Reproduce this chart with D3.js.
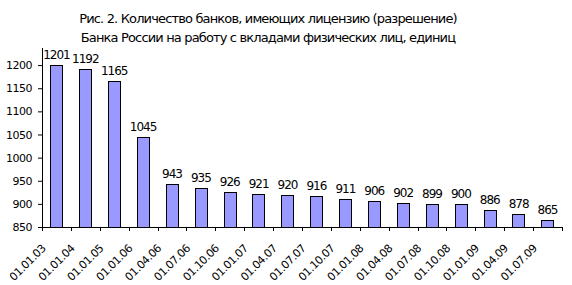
<!DOCTYPE html>
<html>
<head>
<meta charset="utf-8">
<title>Количество банков</title>
<script src="https://cdn.jsdelivr.net/npm/d3@7/dist/d3.min.js"></script>
<style>
  * { margin: 0; padding: 0; }
  body { background: #fff; }
  text { font-family: "DejaVu Sans", sans-serif; fill: #000; }
</style>
</head>
<body>
<div id="chart"></div>
<script>
var dates = ["01.01.03","01.01.04","01.01.05","01.01.06","01.04.06","01.07.06","01.10.06",
             "01.01.07","01.04.07","01.07.07","01.10.07","01.01.08","01.04.08","01.07.08",
             "01.10.08","01.01.09","01.04.09","01.07.09"];
var banks = [1201,1192,1165,1045,943,935,926,921,920,916,911,906,902,899,900,886,878,865];
var yTicks = [850,900,950,1000,1050,1100,1150,1200];
var titleLines = ["Рис. 2. Количество банков, имеющих лицензию (разрешение)",
                  "Банка России на работу с вкладами физических лиц, единиц"];

var W = 572, H = 285;
var mLeft = 42, mRight = 562, mTop = 48, mBottom = 227;

var svg = d3.select("#chart").append("svg")
    .attr("width", W).attr("height", H);

var x = d3.scaleBand().domain(dates).range([mLeft, mRight]).paddingInner(0).paddingOuter(0);
var y = d3.scaleLinear().domain([850, 1237]).range([mBottom, mTop]);

// title
svg.append("g").selectAll("text").data(titleLines).enter().append("text")
    .attr("x", 268).attr("y", function(d, i){ return 23 + i * 19; })
    .attr("text-anchor", "middle")
    .attr("font-size", 13)
    .attr("letter-spacing", -0.85)
    .text(function(d){ return d; });

// bars
var bw = x.bandwidth() * 0.43;
svg.append("g").selectAll("rect").data(banks).enter().append("rect")
    .attr("x", function(d, i){ return Math.round(x(dates[i]) + (x.bandwidth() - bw) / 2) + 0.5; })
    .attr("y", function(d){ return Math.round(y(d)) + 0.5; })
    .attr("width", Math.round(bw))
    .attr("height", function(d){ return mBottom - Math.round(y(d)); })
    .attr("fill", "#9999ff")
    .attr("stroke", "#000")
    .attr("stroke-width", 1);

// value labels
svg.append("g").selectAll("text").data(banks).enter().append("text")
    .attr("x", function(d, i){ return x(dates[i]) + x.bandwidth() / 2; })
    .attr("y", function(d){ return y(d) - 6; })
    .attr("text-anchor", "middle")
    .attr("font-size", 12)
    .attr("letter-spacing", -1)
    .text(function(d){ return d; });

// y axis
var yAxis = d3.axisLeft(y).tickValues(yTicks).tickSize(4).tickSizeOuter(0).tickFormat(d3.format("d"));
var gy = svg.append("g").attr("transform", "translate(" + mLeft + ",0)").call(yAxis);
gy.select(".domain").attr("d", "M0.5," + mTop + "V" + mBottom);
gy.selectAll("text").attr("font-size", 11).attr("letter-spacing", -0.5)
    .attr("font-family", "DejaVu Sans").attr("x", -10);

// x axis (ticks between categories)
svg.append("line")
    .attr("x1", mLeft).attr("x2", mRight + 0.5)
    .attr("y1", mBottom + 0.5).attr("y2", mBottom + 0.5)
    .attr("stroke", "#000");
svg.append("g").selectAll("line").data(d3.range(dates.length + 1)).enter().append("line")
    .attr("x1", function(i){ return Math.round(mLeft + i * x.bandwidth()) + 0.5; })
    .attr("x2", function(i){ return Math.round(mLeft + i * x.bandwidth()) + 0.5; })
    .attr("y1", mBottom).attr("y2", mBottom + 4)
    .attr("stroke", "#000");

svg.append("g").selectAll("text").data(dates).enter().append("text")
    .attr("transform", function(d){
        var cx = x(d) + x.bandwidth() / 2 - 10;
        return "translate(" + cx + "," + 249 + ") rotate(-45)";
    })
    .attr("text-anchor", "end")
    .attr("font-size", 11)
    .attr("letter-spacing", -0.4)
    .text(function(d){ return d; });
</script>
</body>
</html>
